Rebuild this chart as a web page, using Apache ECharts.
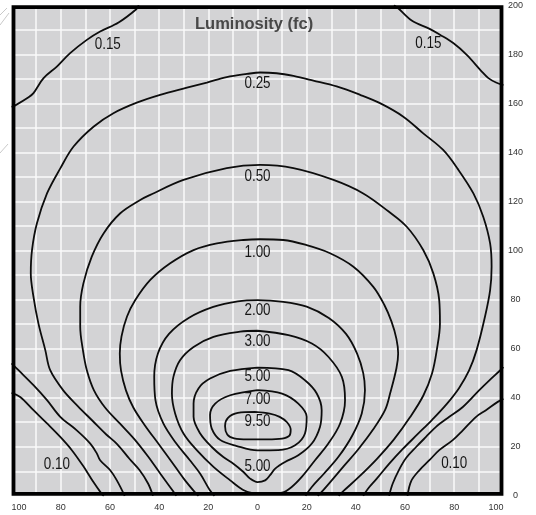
<!DOCTYPE html>
<html>
<head>
<meta charset="utf-8">
<script src="https://cdn.jsdelivr.net/npm/echarts@6/dist/echarts.min.js"></script>
<style>
html,body{margin:0;padding:0;background:#ffffff;}
#chart{width:536px;height:515px;}
</style>
</head>
<body>
<div id="chart"></div>
<script>
// ---- tick labels ----
const xTickLabels = ['100','80','60','40','20','0','20','40','60','80','100'];
const yTickLabels = ['0','20','40','60','80','100','120','140','160','180','200'];

// ---- contour pieces (x: -100..100, y: 0..200) ----
const c010Left = [[-100,42],[-96.5,40.3],[-91.1,34.9],[-85.6,29.5],[-80.2,24],[-75.5,18.6],[-70.8,12],[-67,6],[-63.5,1],[-62.5,0]];
const c010Right = [[100,39.5],[97.7,38.3],[92.9,34.9],[88.9,32.2],[83.5,26.7],[79.4,22.7],[73.9,18.6],[69.9,14.5],[65.8,10.4],[62.5,6],[61,0]];

const c015TopLeft = [[-48.3,200],[-49.3,198.4],[-56.5,193],[-64,189.3],[-69.4,185.9],[-76.2,180.5],[-81.6,175],[-87,170.3],[-91.1,164.2],[-93.1,162.5],[-98.5,159.2],[-100,158.6]];
const c015TopRight = [[55.5,200],[57,199],[62.7,193.8],[70.2,190.3],[74.2,188],[79.6,184.6],[85.1,179.8],[91.2,173],[93.9,170.3],[97,168.5],[100,167.5]];
const c015BottomLeft = [[-100,54],[-97.2,51.2],[-91.1,45.1],[-85.6,39],[-80.2,32.2],[-73.5,26.7],[-68,21.3],[-65.3,17.2],[-64,14.5],[-59.9,10.4],[-57.2,6.3],[-54,0]];
const c015BottomRight = [[100,52.5],[98.5,51],[94.3,47.1],[90.2,43.1],[83.5,36.2],[78,32.2],[72.6,28.1],[68.5,24],[64.5,19.9],[60.5,15.5],[57.5,10.5],[55,5],[53.5,0]];

const c025 = [[-42.5,0],[-44.5,5],[-48,10.5],[-52,15],[-57,21],[-61.5,25],[-67,30.5],[-73,36.5],[-79,43],[-84.3,51.2],[-86.3,59.4],[-89.1,70.3],[-91.1,81.1],[-92.2,90.7],[-91.7,100.2],[-89.7,111.1],[-85.6,123.3],[-80.2,133.5],[-74.8,142.4],[-66.7,150.5],[-58.6,156],[-49.1,160.3],[-39.6,163.5],[-28.7,166.4],[-20.6,168.5],[-12.5,170.7],[-4.3,172],[1.1,172.6],[7.8,172.3],[14.6,171.2],[22.7,169.3],[32.2,166.9],[41.7,163.5],[49.8,160.1],[59.3,154.6],[67.4,147.8],[75.5,141],[81.5,133.2],[87.8,123.3],[91.8,113.8],[94.6,102.9],[95.2,93.4],[94.6,83.9],[92.5,73],[89.1,59.4],[86,51],[82,44],[77,37.5],[71,31],[65,25],[59,19],[53.5,13],[48.5,7],[45,3],[43,0]];

const c050 = [[-33,0],[-35.5,3.5],[-39.5,9],[-44.5,16],[-50,23],[-56,29.5],[-62,36],[-66.5,43],[-69.4,51.2],[-71,59.4],[-72.1,68.9],[-72.1,77.1],[-70.8,86.6],[-67.4,97.5],[-62.6,107],[-55.8,115.2],[-47.7,120.6],[-43.6,122.7],[-30.1,128.8],[-12.5,133.6],[1.1,134.9],[14.6,133.6],[30.9,128.8],[43,123.3],[53.2,116],[60.7,109.7],[67.4,100.2],[71.5,90.7],[73.9,79.8],[74.2,70.3],[72.9,59.4],[71,50],[67.5,41],[62,32],[55.5,23],[48.5,15],[41,7.5],[35,2],[33,0]];

const c100 = [[-24,0],[-25.5,1.5],[-30,7],[-35,14],[-40.5,21.5],[-46,29],[-50.5,36],[-53.5,43],[-55.5,51],[-56,58],[-55.3,65],[-53.1,73],[-49.7,79.8],[-43.6,88],[-35.5,94.8],[-26,100.2],[-16.5,102.9],[-5.7,104.3],[1.1,104.6],[10.5,104.3],[20,102.2],[29.5,98.9],[39,93.4],[47.1,85.2],[51.5,78],[54.5,71],[56.5,64],[57.2,58],[56.5,52],[54,42],[51.9,35],[47,27],[41,19],[35,12],[29.5,5.5],[26,1.5],[24.5,0]];

const c200 = [[-17.5,0],[-19.5,2.5],[-23.3,9],[-27.5,14.5],[-33,21.3],[-38.3,29.5],[-41.5,39],[-42,48.5],[-40.5,58],[-36,66],[-28,72.5],[-18,77],[-8,79.3],[0,79.8],[10.5,79.1],[20,77.1],[29,72.5],[36,66],[40.5,58],[43,50],[43.7,43],[42.4,33.6],[38.5,24.5],[33,16],[27,9],[22,3.5],[19.5,0]];

const c300 = [[0,67.3],[12.6,65.5],[22.1,62.1],[28.8,56.7],[34.3,48.5],[35.6,39],[33.6,29.5],[28.8,21.3],[23.4,14.5],[18,7.7],[13.9,3.6],[10,1.3],[4,0.9],[-2,1.1],[-6,2.5],[-11.1,6.3],[-17.9,11.8],[-24.7,18.6],[-30.1,25.4],[-33.5,33.6],[-34.8,41.7],[-34.2,48.5],[-31.5,55.3],[-26,60.7],[-17.9,64.8],[-7.1,66.9],[0,67.3]];

const c500 = [[0,52.3],[12.6,51.2],[19.3,47.1],[24.1,41.7],[26.1,34.9],[25.4,28.1],[22.1,21.3],[16.6,16.5],[11.2,13.8],[7.2,11.1],[5.1,8.4],[3.1,6.3],[0,5.6],[-3,7],[-5.7,9.7],[-9.8,13.1],[-13.9,15.8],[-18.6,19.9],[-23.3,25.4],[-26,32.2],[-26,37.6],[-24,43.8],[-19.3,47.8],[-11.1,50.9],[0,52.3]];

const c700 = [[0,43.1],[10,41.7],[16.6,37.6],[20,32.2],[19.3,25.4],[15.3,20.6],[8.5,18.6],[0,18.5],[-8.4,20.3],[-15.2,22.8],[-18.6,27.4],[-19.3,32.9],[-17.2,37.6],[-11.1,41],[0,43.1]];

const c950 = [[-1,34.2],[5,33.5],[9,32.2],[12,30],[13.5,27],[13,24.5],[10,23.3],[4,23],[-4,23],[-9.5,23.4],[-12.3,25],[-13.2,28.5],[-12,31.8],[-8,33.8],[-1,34.2]];

// ---- contour labels ----
const labelText = ['0.15','0.15','0.25','0.50','1.00','2.00','3.00','5.00','7.00','9.50','5.00','0.10','0.10'];
const labelX = [-60.9, 69.5, 0, 0, 0, 0, 0, 0, 0, 0, 0, -81.6, 80];
const labelY = [183.9, 184.2, 167.9, 130, 99.2, 75.4, 62.7, 48.5, 39.4, 30.4, 12.1, 12.9, 13];

const titleText = 'Luminosity (fc)';

// ---- layout ----
const GL = 11.6, GT = 5.3, GW = 491.8, GH = 490.5, BW = 3.8;

const pieces = [c010Left, c010Right, c015TopLeft, c015TopRight, c015BottomLeft, c015BottomRight,
                c025, c050, c100, c200, c300, c500, c700, c950];

const series = pieces.map(d => ({
  type: 'line', data: d, smooth: 0.35, symbol: 'none', silent: true, clip: true,
  lineStyle: {color: '#0d0d0d', width: 1.8}, z: 3
}));

const baseGraphic = [
  {type: 'rect', z: 100, silent: true,
   shape: {x: GL + BW / 2, y: GT + BW / 2, width: GW - BW, height: GH - BW},
   style: {fill: null, stroke: '#000', lineWidth: BW}},
  {type: 'line', z: 100, silent: true, shape: {x1: 0, y1: 15, x2: 7, y2: 8}, style: {stroke: '#c9c9c9', lineWidth: 1}},
  {type: 'line', z: 100, silent: true, shape: {x1: 0, y1: 25, x2: 9, y2: 13}, style: {stroke: '#c9c9c9', lineWidth: 1}},
  {type: 'line', z: 100, silent: true, shape: {x1: 0, y1: 153, x2: 8, y2: 144}, style: {stroke: '#c9c9c9', lineWidth: 1}}
];

const chart = echarts.init(document.getElementById('chart'), null, {renderer: 'canvas'});
chart.setOption({
  animation: false,
  backgroundColor: '#ffffff',
  title: {text: titleText, left: 195, top: 16, padding: 0,
          textStyle: {fontSize: 16.5, fontWeight: 'bold', color: '#484848', fontFamily: 'Liberation Sans'}},
  grid: {left: GL, top: GT, width: GW, height: GH, show: true, backgroundColor: '#d3d3d5', borderWidth: 0},
  xAxis: {
    type: 'value', min: -100, max: 100, interval: 20,
    axisLine: {show: false}, axisTick: {show: false},
    splitLine: {show: true, lineStyle: {color: '#fafafa', width: 1.5}},
    minorTick: {show: false, splitNumber: 2},
    minorSplitLine: {show: true, lineStyle: {color: '#fafafa', width: 1.5}},
    axisLabel: {formatter: v => xTickLabels[Math.round((v + 100) / 20)], margin: 7, fontSize: 9,
                color: '#333', fontFamily: 'Liberation Sans', alignMinLabel: 'left', alignMaxLabel: 'right',
                showMinLabel: true, showMaxLabel: true}
  },
  yAxis: {
    type: 'value', position: 'right', min: 0, max: 200, interval: 20,
    axisLine: {show: false}, axisTick: {show: false},
    splitLine: {show: true, lineStyle: {color: '#fafafa', width: 1.5}},
    minorTick: {show: false, splitNumber: 2},
    minorSplitLine: {show: true, lineStyle: {color: '#fafafa', width: 1.5}},
    axisLabel: {formatter: v => yTickLabels[Math.round(v / 20)], margin: 12, align: 'center', fontSize: 9,
                color: '#333', fontFamily: 'Liberation Sans', showMinLabel: true, showMaxLabel: true}
  },
  graphic: baseGraphic,
  series: series
});

// contour labels: positioned through the chart's own coordinate conversion
const labelGraphic = labelText.map((t, i) => {
  const p = chart.convertToPixel({gridIndex: 0}, [labelX[i], labelY[i]]);
  return {type: 'text', z: 50, silent: true, x: p[0], y: p[1], scaleX: 0.84, scaleY: 1,
          style: {text: t, fontSize: 16, fontFamily: 'Liberation Sans', fill: '#151515',
                  align: 'center', verticalAlign: 'middle'}};
});
chart.setOption({graphic: baseGraphic.concat(labelGraphic)}, {replaceMerge: ['graphic']});
</script>
</body>
</html>
